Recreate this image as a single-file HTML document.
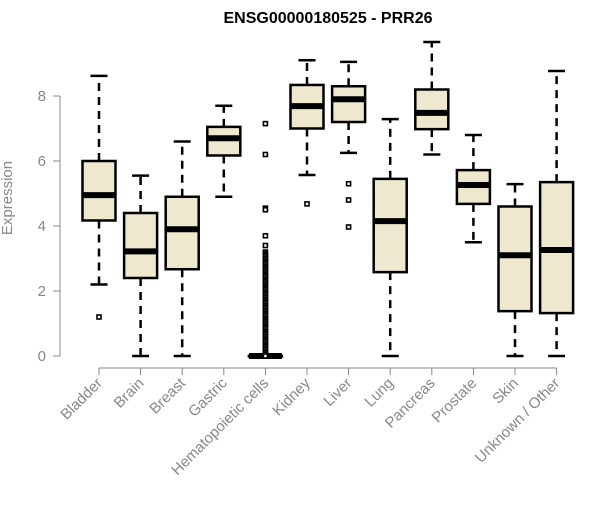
<!DOCTYPE html>
<html><head><meta charset="utf-8"><style>
html,body{margin:0;padding:0;background:#fff;}
svg text{font-family:"Liberation Sans",Arial,sans-serif;}
</style></head><body>
<svg id="chart" width="600" height="500" viewBox="0 0 600 500" xmlns="http://www.w3.org/2000/svg">
<text x="328" y="23" text-anchor="middle" font-size="16" font-weight="bold" fill="#000">ENSG00000180525 - PRR26</text>
<text transform="translate(12,198) rotate(-90)" text-anchor="middle" font-size="15" fill="#888">Expression</text>
<g id="yaxis"></g>
<g id="xaxis"></g>
<g id="boxes"></g>
</svg>
<script>
const categories=["Bladder","Brain","Breast","Gastric","Hematopoietic cells","Kidney","Liver","Lung","Pancreas","Prostate","Skin","Unknown / Other"];
const whiskerLow=[2.2,0,0,4.9,0,5.57,6.25,0,6.2,3.5,0,0];
const q1=[4.17,2.4,2.67,6.17,0,7.0,7.2,2.58,6.98,4.68,1.38,1.32];
const median=[4.95,3.22,3.9,6.7,0,7.69,7.9,4.15,7.48,5.26,3.1,3.26];
const q3=[6.0,4.4,4.9,7.05,0,8.34,8.3,5.45,8.2,5.72,4.6,5.35];
const whiskerHigh=[8.62,5.55,6.6,7.7,0,9.1,9.05,7.29,9.66,6.8,5.29,8.77];
const hematoOutliers=[7.15,6.2,4.55,4.5,3.7,3.4,3.2,3.15,3.1,3.05,3.0,2.95,2.9,2.85,2.8,2.75,2.7,2.65,2.6,2.55,2.5,2.45,2.4,2.35,2.3,2.25,2.2,2.15,2.1,2.05,2.0,1.95,1.9,1.85,1.8,1.75,1.7,1.65,1.6,1.55,1.5,1.45,1.4,1.35,1.3,1.25,1.2,1.15,1.1,1.05,1.0,0.95,0.9,0.85,0.8,0.75,0.7,0.65,0.6,0.55,0.5,0.45,0.4,0.35,0.3,0.25,0.2,0.15,0.1,0.05,0];
const outliers=[[1.2],[],[],[],hematoOutliers,[4.68],[5.3,4.8,3.97],[],[],[],[],[]];
const yTicks=[0,2,4,6,8];

const NS="http://www.w3.org/2000/svg";
const y=v=>356-32.5*v;
const x=i=>99+i*41.6;
const hw=16.5;
function mk(tag,attrs,parent){const e=document.createElementNS(NS,tag);for(const k in attrs)e.setAttribute(k,attrs[k]);parent.appendChild(e);return e;}
const ya=document.getElementById('yaxis'),xa=document.getElementById('xaxis'),bx=document.getElementById('boxes');
mk('line',{x1:60,x2:60,y1:y(0),y2:y(8),stroke:'#888'},ya);
yTicks.forEach(t=>{
  mk('line',{x1:53,x2:60,y1:y(t),y2:y(t),stroke:'#888'},ya);
  const tx=mk('text',{x:46,y:y(t)+5,'text-anchor':'end','font-size':15,fill:'#888'},ya);
  
  
  tx.textContent=t;
});
mk('line',{x1:x(0),x2:x(categories.length-1),y1:368,y2:368,stroke:'#888'},xa);
categories.forEach((c,i)=>{
  mk('line',{x1:x(i),x2:x(i),y1:368,y2:375,stroke:'#888'},xa);
  const tx=mk('text',{transform:`translate(${x(i)+4},384) rotate(-45)`,'text-anchor':'end','font-size':15,fill:'#888'},xa);
  
  
  tx.textContent=c;
  const g=mk('g',{},bx);
  
  
  const cx=x(i);
  mk('line',{x1:cx,x2:cx,y1:y(q3[i]),y2:y(whiskerHigh[i]),stroke:'#000','stroke-width':2.5,'stroke-dasharray':'8,6'},g);
  mk('line',{x1:cx,x2:cx,y1:y(q1[i]),y2:y(whiskerLow[i]),stroke:'#000','stroke-width':2.5,'stroke-dasharray':'8,6'},g);
  mk('line',{x1:cx-8.5,x2:cx+8.5,y1:y(whiskerHigh[i]),y2:y(whiskerHigh[i]),stroke:'#000','stroke-width':2.5},g);
  mk('line',{x1:cx-8.5,x2:cx+8.5,y1:y(whiskerLow[i]),y2:y(whiskerLow[i]),stroke:'#000','stroke-width':2.5},g);
  mk('rect',{x:cx-hw,y:y(q3[i]),width:2*hw,height:Math.max(0.5,y(q1[i])-y(q3[i])),fill:'#EDE8CE',stroke:'#000','stroke-width':2.5},g);
  mk('line',{x1:cx-hw,x2:cx+hw,y1:y(median[i]),y2:y(median[i]),stroke:'#000','stroke-width':6},g);
  outliers[i].forEach(o=>{
    const p=mk('rect',{x:cx-2,y:y(o)-2,width:4,height:4,fill:'#fff',stroke:'#000','stroke-width':1.6},g);
    
    
  });
});
</script>
</body></html>
